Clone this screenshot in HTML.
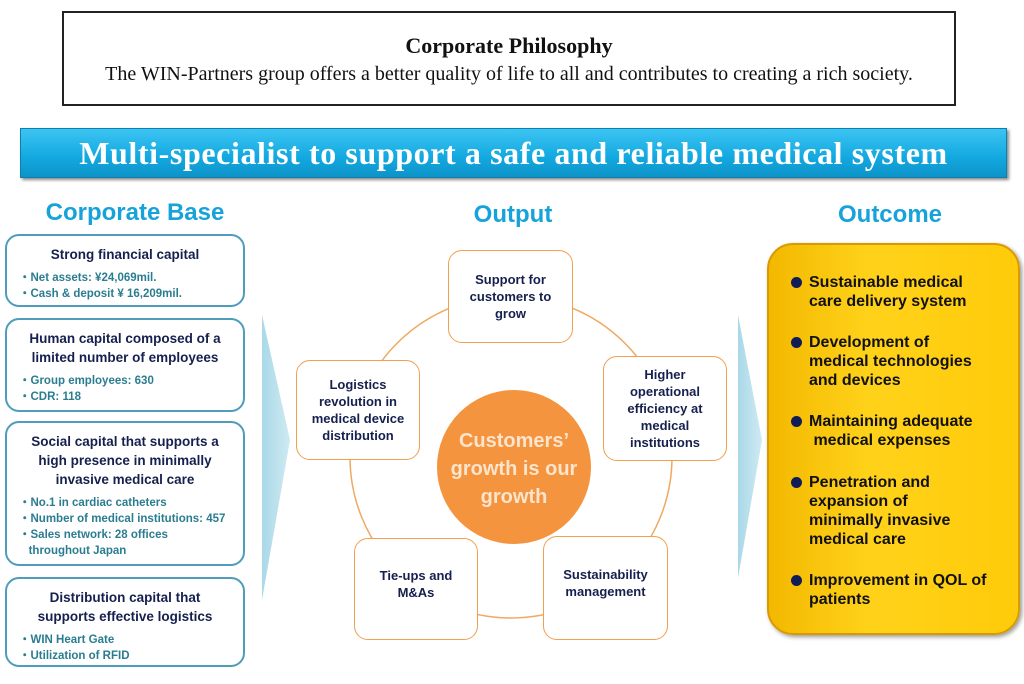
<!DOCTYPE html>
<html><head><meta charset="utf-8"><style>
body{margin:0;width:1024px;height:684px;background:#fff;position:relative;overflow:hidden;font-family:"Liberation Sans",sans-serif}
.a{position:absolute}
.phil{left:62px;top:11px;width:890px;height:91px;border:2px solid #222;font-family:"Liberation Serif",serif;text-align:center;color:#111}
.banner{left:20px;top:128px;width:985px;height:48px;background:linear-gradient(#3cc4f2,#12a8e0 60%,#0d93c8);border:1px solid #0a7fb0;box-shadow:2px 2px 3px #888;color:#fff;font-family:"Liberation Serif",serif;font-weight:bold;font-size:32px;letter-spacing:0.6px;text-align:center;line-height:48px;white-space:nowrap}
.h{color:#17a3da;font-weight:bold;font-size:24px;text-align:center}
.lb{left:5px;width:240px;border:2px solid #4d9dbb;border-radius:14px;box-sizing:border-box}
.lt{color:#16204e;font-weight:bold;font-size:13.5px;text-align:center;line-height:19px;margin-top:9px}
.bl{color:#2a7d90;font-weight:bold;font-size:11.5px;line-height:16px;margin:6px 0 0 12px}
.ob{border:1.5px solid #f0a050;border-radius:14px;background:#fff;box-sizing:border-box;display:flex;align-items:center;justify-content:center;text-align:center;color:#16204e;font-weight:bold;font-size:13px;line-height:17px}
.yl{left:767px;top:243px;width:253px;height:392px;border-radius:26px;background:linear-gradient(90deg,#f3b800,#ffd21a 40%,#ffcb0a);border:2px solid #d89a00;box-sizing:border-box;box-shadow:2px 2px 4px #999}
.it{position:absolute;left:22px;color:#111;font-weight:bold;font-size:16px;line-height:19px;white-space:nowrap}
.it b{position:absolute;left:0;top:4px;width:11px;height:11px;border-radius:50%;background:#0f1c55}
.it span{display:block;padding-left:18px}
</style></head><body>
<div class="a phil"><div style="font-weight:bold;font-size:22px;margin-top:20px">Corporate Philosophy</div><div style="font-size:20px;margin-top:4px;white-space:nowrap">The WIN-Partners group offers a better quality of life to all and contributes to creating a rich society.</div></div>
<div class="a banner">Multi-specialist to support a safe and reliable medical system</div>
<div class="a h" style="left:0;top:199px;width:270px">Corporate Base</div>
<div class="a h" style="left:413px;top:201px;width:200px">Output</div>
<div class="a h" style="left:790px;top:201px;width:200px">Outcome</div>

<div class="a lb" style="top:234px;height:73px"><div class="lt">Strong financial capital</div><div class="bl">・Net assets: ¥24,069mil.<br>・Cash &amp; deposit ¥ 16,209mil.</div></div>
<div class="a lb" style="top:318px;height:94px"><div class="lt">Human capital composed of a<br>limited number of employees</div><div class="bl">・Group employees: 630<br>・CDR: 118</div></div>
<div class="a lb" style="top:421px;height:145px"><div class="lt">Social capital that supports a<br>high presence in minimally<br>invasive medical care</div><div class="bl">・No.1 in cardiac catheters<br>・Number of medical institutions: 457<br>・Sales network: 28 offices<br>&nbsp;&nbsp;&nbsp;throughout Japan</div></div>
<div class="a lb" style="top:577px;height:90px"><div class="lt">Distribution capital that<br>supports effective logistics</div><div class="bl">・WIN Heart Gate<br>・Utilization of RFID</div></div>

<svg class="a" style="left:0;top:0" width="1024" height="684">
<defs><linearGradient id="g" x1="0" x2="1"><stop offset="0" stop-color="#a9d8e8"/><stop offset="1" stop-color="#cfeaf2"/></linearGradient></defs>
<polygon points="262,315 290,440 262,600" fill="url(#g)"/>
<polygon points="738,315 762,440 738,578" fill="url(#g)"/>
<circle cx="511" cy="457" r="161" fill="none" stroke="#f0a860" stroke-width="1.5"/>
<circle cx="514" cy="467" r="77" fill="#f4943e"/>
<text x="514" y="447" text-anchor="middle" fill="#fde4cc" font-family="Liberation Sans" font-weight="bold" font-size="20">Customers’</text>
<text x="514" y="475" text-anchor="middle" fill="#fde4cc" font-family="Liberation Sans" font-weight="bold" font-size="20">growth is our</text>
<text x="514" y="503" text-anchor="middle" fill="#fde4cc" font-family="Liberation Sans" font-weight="bold" font-size="20">growth</text>
</svg>

<div class="a ob" style="left:448px;top:250px;width:125px;height:93px">Support for<br>customers to<br>grow</div>
<div class="a ob" style="left:603px;top:356px;width:124px;height:105px">Higher<br>operational<br>efficiency at<br>medical<br>institutions</div>
<div class="a ob" style="left:296px;top:360px;width:124px;height:100px">Logistics<br>revolution in<br>medical device<br>distribution</div>
<div class="a ob" style="left:354px;top:538px;width:124px;height:102px;padding-bottom:10px">Tie-ups and<br>M&amp;As</div>
<div class="a ob" style="left:543px;top:536px;width:125px;height:104px;padding-bottom:10px">Sustainability<br>management</div>

<div class="a yl">
<div class="it" style="top:28px"><b></b><span>Sustainable medical<br>care delivery system</span></div>
<div class="it" style="top:88px"><b></b><span>Development of<br>medical technologies<br>and devices</span></div>
<div class="it" style="top:167px"><b></b><span>Maintaining adequate<br>&nbsp;medical expenses</span></div>
<div class="it" style="top:228px"><b></b><span>Penetration and<br>expansion of<br>minimally invasive<br>medical care</span></div>
<div class="it" style="top:326px"><b></b><span>Improvement in QOL of<br>patients</span></div>
</div>
</body></html>
